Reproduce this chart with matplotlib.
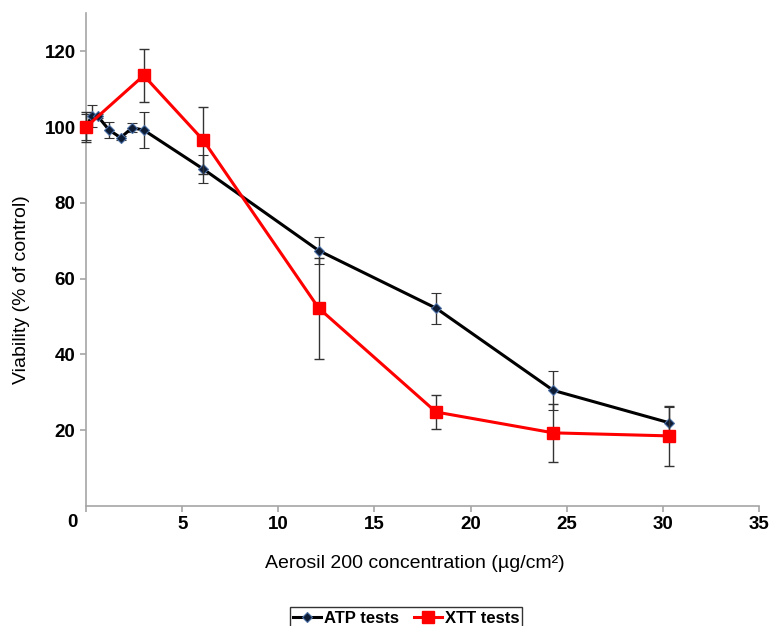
import numpy as np
import matplotlib.pyplot as plt
from matplotlib.lines import Line2D

plt.rcParams['font.family'] = ['Liberation Sans', 'DejaVu Sans']

# ATP tests
atp_x = [0, 0.3, 0.6, 1.2, 1.8, 2.4, 3.0, 6.1, 12.1, 18.2, 24.3, 30.3]
atp_y = [100, 102.9, 102.9, 99.2, 97.2, 99.8, 99.2, 88.9, 67.4, 52.2, 30.5, 22.0]
atp_err = [3.5, 3.0, 0.5, 2.2, 0.5, 1.2, 4.7, 3.7, 3.5, 4.1, 5.1, 4.0]

# XTT tests
xtt_x = [0, 3.0, 6.1, 12.1, 18.2, 24.3, 30.3]
xtt_y = [100, 113.6, 96.5, 52.2, 24.8, 19.3, 18.5]
xtt_err = [4.0, 7.0, 8.8, 13.3, 4.6, 7.7, 8.0]

xticks = [0, 5, 10, 15, 20, 25, 30, 35]
yticks = [20, 40, 60, 80, 100, 120]

atp_style = dict(color='black', lw=2.2, marker='D', ms=5,
                 mfc='#0d1b33', mec='#4a6fa5', mew=0.8)
xtt_style = dict(color='#ff0000', lw=2.2, marker='s', ms=8,
                 mfc='#ff0000', mec='#ff0000')


def main():
    fig = plt.figure(figsize=(7.73, 6.26), dpi=100)
    ax = fig.add_axes([0.1113, 0.1917, 0.8707, 0.787])

    bar_kw = dict(ecolor='#333333', elinewidth=1, capsize=3.5, capthick=1,
                  clip_on=False)
    ax.errorbar(atp_x, atp_y, yerr=atp_err, zorder=3, **atp_style, **bar_kw)
    ax.errorbar(xtt_x, xtt_y, yerr=xtt_err, zorder=4, **xtt_style, **bar_kw)

    ax.set_xlim(0, 35)
    ax.set_ylim(0, 130)
    ax.set_xticks(xticks)
    ax.set_yticks(yticks)
    ax.set_xticklabels(['' if t == 0 else str(t) for t in xticks])
    for s in ['top', 'right']:
        ax.spines[s].set_visible(False)
    for s in ['left', 'bottom']:
        ax.spines[s].set_color('#a6a6a6')
        ax.spines[s].set_linewidth(1.2)
    ax.tick_params(colors='#a6a6a6', labelcolor='black', length=4, width=1.2)
    for lab in ax.get_xticklabels() + ax.get_yticklabels():
        lab.set_fontweight('bold')
        lab.set_fontsize(13.5)
    ax.annotate('0', xy=(0, 0), xytext=(-10, -12), textcoords='offset points',
                ha='center', va='center', fontsize=13.5, fontweight='bold')

    fig.text(415 / 773, 1 - 564 / 626, 'Aerosil 200 concentration (µg/cm²)',
             ha='center', va='center', fontsize=14)
    fig.text(22 / 773, 1 - 290 / 626, 'Viability (% of control)',
             ha='center', va='center', rotation=90, fontsize=14)

    handles = [Line2D([], [], **atp_style), Line2D([], [], **xtt_style)]
    leg = fig.legend(handles, ['ATP tests', 'XTT tests'], loc='upper center',
                     bbox_to_anchor=(406 / 773, 1 - 599 / 626),
                     ncol=2, frameon=True, fancybox=False, borderpad=0.2,
                     handlelength=1.7, columnspacing=0.9, handletextpad=0.15,
                     prop={'weight': 'bold', 'size': 12})
    leg.get_frame().set_edgecolor('black')
    leg.get_frame().set_linewidth(1)

    plt.savefig('out.png', dpi=100)
    plt.close()


if __name__ == "__main__":
    main()
